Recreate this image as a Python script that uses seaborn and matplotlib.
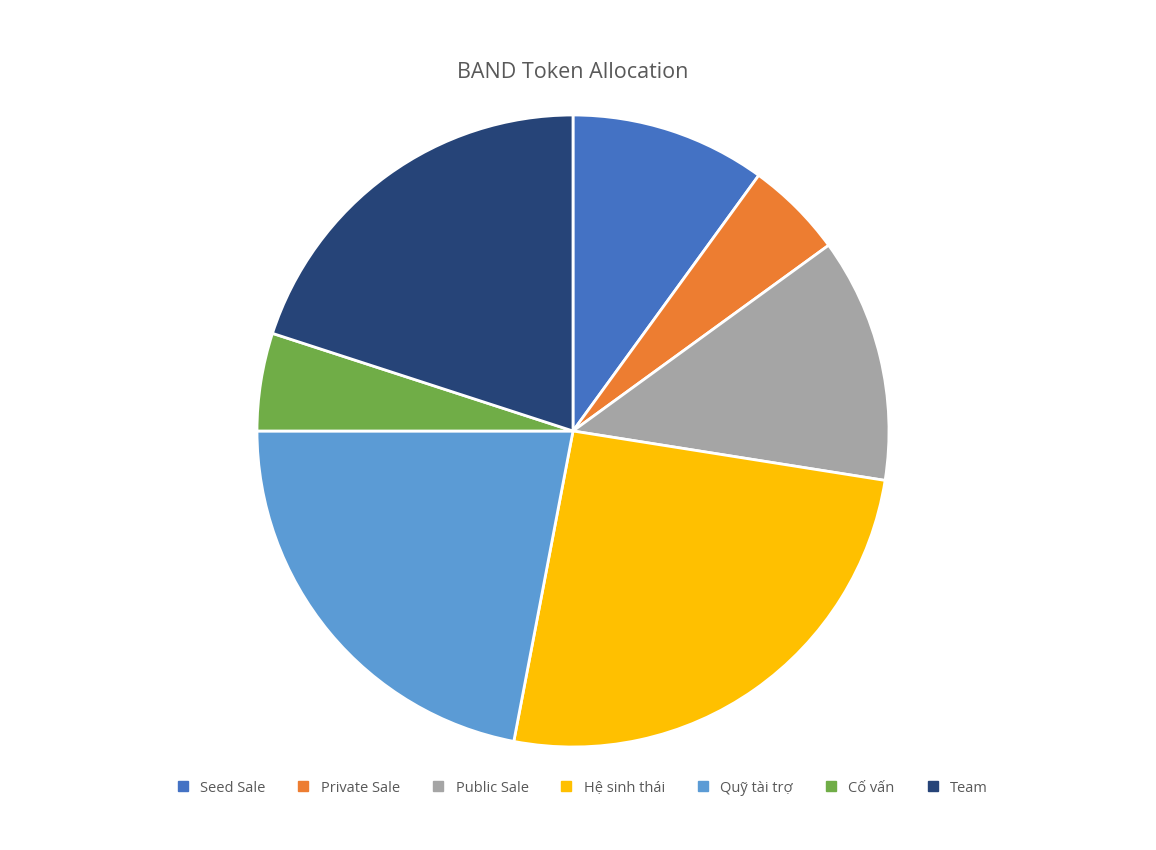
import matplotlib
matplotlib.use("Agg")
import matplotlib.pyplot as plt
import seaborn as sns
from matplotlib.lines import Line2D

labels = ["Seed Sale", "Private Sale", "Public Sale", "Hệ sinh thái", "Quỹ tài trợ", "Cố vấn", "Team"]
values = [10, 5, 12.5, 25.5, 22, 5, 20]
colors = ["#4472C4", "#ED7D31", "#A5A5A5", "#FFC000", "#5B9BD5", "#70AD47", "#264478"]

sns.set_theme(style="white")
plt.rcParams['font.family'] = ['Open Sans', 'DejaVu Sans']
pal = sns.color_palette(colors)

fig = plt.figure(figsize=(11.56, 8.5), dpi=100)
W, H = 1156, 850
cx, cy, r = 573, 431, 316
ax = fig.add_axes([(cx - r) / W, (H - cy - r) / H, 2 * r / W, 2 * r / H])
ax.pie(values, colors=pal, startangle=90, counterclock=False,
       wedgeprops=dict(edgecolor="white", linewidth=2))
ax.set_aspect("equal")
ax.set_xlim(-1, 1); ax.set_ylim(-1, 1)
ax.axis("off")

fig.text(cx / W, 1 - 72 / H, "BAND Token Allocation", ha="center", va="center",
         fontsize=15.5, color="#595959")

handles = [Line2D([0], [0], marker="s", linestyle="", markersize=7, color=c) for c in colors]
fig.legend(handles, labels, loc="center", bbox_to_anchor=(578 / W, 1 - 788 / H), ncol=7,
           frameon=False, fontsize=10.5, handletextpad=0.2, columnspacing=1.6,
           labelcolor="#595959")

fig.savefig("out.png", dpi=100, facecolor="white")
